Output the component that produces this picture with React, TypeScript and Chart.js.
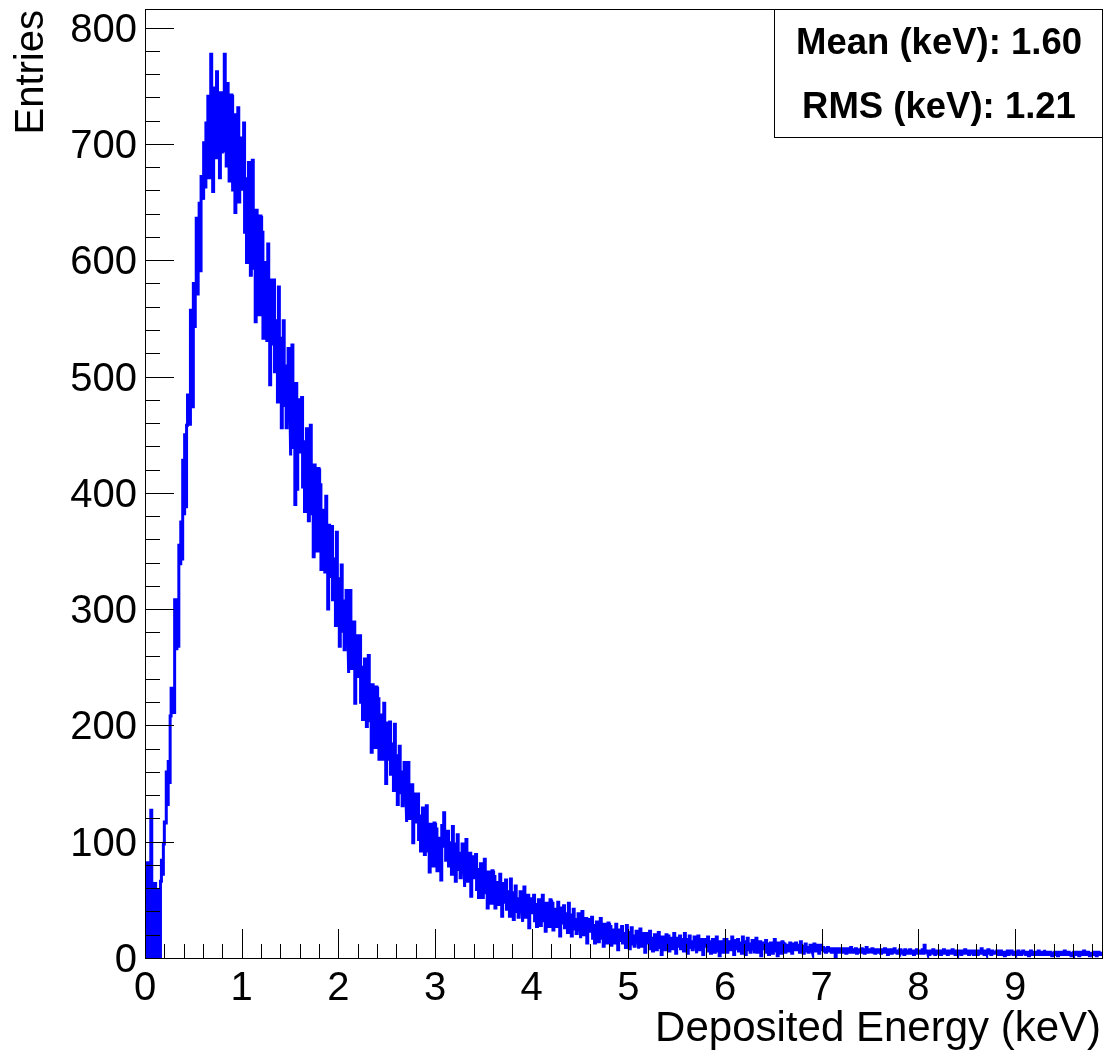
import React, { useEffect, useRef } from "react";
import { Chart, registerables } from "chart.js";

Chart.register(...registerables);

// Histogram: deposited energy, bins of 0.01 keV from 0 to 9.9 keV (20 bins per row = 0.2 keV)
const binWidth = 0.01;
const xRange = [0, 9.9];
const yRange = [0, 816];
const counts: number[] = [
  0, 0, 82, 35, 0, 12, 127, 48, 0, 20, 64, 26, 0, 45, 58, 0, 66, 84, 72, 98,
  117, 116, 160, 132, 169, 151, 208, 232, 213, 211, 263, 308, 266, 302, 268, 355, 339, 375, 343, 428,
  382, 450, 388, 458, 484, 471, 459, 557, 527, 474, 580, 543, 580, 636, 571, 600, 649, 591, 672, 657,
  652, 701, 663, 718, 689, 741, 671, 709, 777, 684, 659, 736, 748, 688, 762, 705, 726, 671, 744, 693,
  738, 694, 777, 716, 681, 752, 729, 668, 713, 742, 659, 706, 725, 641, 702, 688, 731, 650, 693, 674,
  705, 661, 718, 624, 665, 598, 670, 684, 619, 587, 642, 686, 593, 619, 547, 643, 595, 619, 553, 638,
  567, 624, 533, 590, 598, 563, 531, 614, 565, 493, 583, 528, 545, 583, 504, 516, 548, 478, 577, 510,
  519, 456, 533, 548, 475, 509, 456, 486, 524, 468, 432, 499, 527, 439, 469, 390, 494, 403, 470, 480,
  471, 435, 482, 405, 438, 384, 444, 455, 403, 376, 422, 458, 382, 404, 345, 424, 386, 404, 350, 421,
  361, 407, 334, 379, 385, 357, 332, 397, 358, 300, 372, 328, 341, 371, 308, 318, 343, 286, 366, 312,
  317, 268, 326, 338, 281, 307, 265, 287, 316, 273, 245, 295, 316, 249, 271, 250, 289, 219, 269, 277,
  268, 242, 277, 220, 245, 205, 250, 257, 219, 199, 234, 260, 204, 221, 177, 235, 207, 221, 181, 233,
  190, 223, 171, 204, 209, 189, 171, 219, 191, 150, 202, 171, 181, 203, 158, 165, 184, 144, 201, 163,
  167, 132, 174, 182, 142, 160, 131, 147, 168, 137, 117, 153, 168, 120, 136, 121, 149, 99, 136, 141,
  135, 117, 141, 102, 119, 92, 122, 129, 102, 89, 112, 131, 92, 104, 74, 115, 96, 106, 79, 116,
  86, 111, 75, 100, 103, 91, 67, 114, 96, 125, 105, 84, 92, 109, 79, 84, 99, 72, 113, 87,
  92, 66, 98, 106, 76, 90, 69, 81, 98, 76, 61, 89, 102, 66, 79, 68, 90, 53, 81, 87,
  83, 69, 89, 59, 72, 52, 76, 81, 62, 52, 70, 85, 56, 65, 43, 74, 60, 68, 47, 75,
  52, 70, 43, 61, 65, 55, 46, 72, 57, 36, 64, 48, 53, 67, 42, 47, 57, 36, 68, 47,
  51, 33, 56, 62, 40, 51, 35, 45, 57, 41, 31, 51, 61, 35, 44, 37, 54, 26, 47, 51,
  50, 39, 54, 32, 43, 27, 46, 50, 35, 28, 42, 54, 32, 40, 23, 47, 36, 43, 27, 50,
  32, 47, 24, 39, 42, 34, 27, 48, 36, 19, 43, 30, 34, 45, 26, 30, 38, 22, 47, 31,
  33, 19, 37, 42, 25, 33, 21, 28, 38, 25, 17, 34, 40, 20, 28, 22, 34, 13, 30, 33,
  31, 23, 35, 17, 25, 13, 28, 31, 19, 14, 25, 34, 17, 22, 10, 29, 20, 25, 13, 30,
  16, 27, 11, 23, 24, 18, 13, 29, 21, 7, 24, 15, 19, 27, 13, 15, 21, 9, 28, 17,
  19, 8, 22, 26, 12, 19, 10, 16, 23, 14, 8, 20, 25, 10, 16, 11, 21, 5, 18, 21,
  20, 13, 23, 8, 15, 6, 17, 20, 11, 7, 16, 22, 9, 13, 3, 18, 12, 16, 7, 20,
  10, 19, 6, 15, 17, 12, 8, 21, 14, 4, 17, 10, 13, 19, 8, 10, 16, 6, 21, 12,
  13, 4, 16, 19, 9, 14, 7, 12, 18, 10, 4, 15, 19, 7, 12, 8, 16, 3, 14, 16,
  15, 10, 18, 6, 12, 4, 14, 16, 8, 5, 12, 18, 6, 10, 2, 14, 9, 13, 5, 16,
  8, 16, 5, 13, 14, 10, 7, 18, 12, 3, 15, 8, 11, 16, 6, 8, 13, 4, 18, 10,
  11, 3, 14, 17, 7, 12, 5, 10, 15, 8, 4, 13, 17, 5, 10, 6, 14, 2, 11, 13,
  12, 8, 15, 5, 10, 3, 12, 13, 7, 4, 10, 16, 6, 9, 2, 13, 8, 11, 4, 14,
  7, 12, 5, 10, 11, 8, 6, 13, 9, 4, 12, 7, 9, 13, 7, 8, 11, 5, 14, 9,
  8, 4, 10, 12, 6, 9, 5, 8, 11, 6, 4, 10, 12, 6, 8, 6, 11, 4, 9, 11,
  7, 9, 6, 8, 5, 7, 9, 6, 8, 7, 5, 8, 6, 7, 1, 8, 6, 7, 5, 8,
  7, 5, 8, 6, 7, 4, 8, 6, 7, 5, 9, 6, 5, 7, 6, 8, 4, 7, 6, 5,
  6, 8, 5, 7, 4, 6, 9, 5, 6, 7, 4, 6, 8, 5, 6, 4, 7, 6, 5, 7,
  6, 4, 7, 5, 6, 8, 5, 6, 3, 7, 5, 6, 4, 7, 5, 8, 5, 6, 4, 6,
  5, 7, 4, 6, 5, 3, 7, 5, 6, 4, 5, 7, 4, 6, 5, 3, 6, 5, 7, 4,
  5, 6, 4, 5, 7, 4, 11, 5, 6, 4, 5, 3, 6, 5, 4, 7, 5, 3, 6, 5,
  4, 6, 5, 3, 6, 5, 7, 4, 5, 6, 3, 5, 6, 4, 5, 7, 4, 5, 3, 6,
  5, 4, 6, 5, 3, 6, 4, 5, 7, 4, 5, 6, 3, 5, 4, 6, 5, 3, 6, 4,
  5, 3, 6, 4, 5, 8, 4, 5, 3, 6, 4, 5, 7, 4, 5, 3, 6, 4, 5, 4,
  4, 6, 3, 5, 4, 6, 3, 5, 4, 2, 5, 4, 6, 3, 5, 4, 6, 4, 3, 5,
  4, 5, 3, 6, 4, 5, 3, 4, 6, 4, 5, 3, 4, 5, 2, 4, 6, 3, 5, 4,
  4, 3, 5, 4, 6, 3, 4, 5, 3, 4, 7, 4, 3, 5, 4, 3, 5, 4, 2, 4,
  4, 5, 3, 4, 2, 5, 4, 3, 5, 4, 3, 6, 4, 3, 4, 5, 3, 4, 2, 4,
  3, 5, 4, 3, 5, 4, 2, 4, 5, 3, 4, 6, 3, 4, 3, 5, 4, 2, 4, 3,
  4, 3, 5, 4, 2, 4, 5, 3, 4, 3,
];
const xTickLabels = ["0", "1", "2", "3", "4", "5", "6", "7", "8", "9"];
const yTickLabels = ["0", "100", "200", "300", "400", "500", "600", "700", "800"];
const xTitle = "Deposited Energy (keV)";
const yTitle = "Entries";
const statsLines = ["Mean (keV): 1.60", "RMS (keV): 1.21"];

const FONT = "'Liberation Sans', Arial, Helvetica, sans-serif";

const framePlugin = {
  id: "rootFrame",
  afterDraw(chart: any) {
    const ctx: CanvasRenderingContext2D = chart.ctx;
    const { left, right, top, bottom } = chart.chartArea;
    const xs = chart.scales.x;
    const ys = chart.scales.y;
    ctx.save();
    ctx.strokeStyle = "#000";
    ctx.lineWidth = 1;
    // frame
    ctx.strokeRect(Math.round(left) + 0.5, Math.round(top) + 0.5, Math.round(right - left), Math.round(bottom - top));
    ctx.beginPath();
    // x ticks
    for (let k = 0; k < 50; k++) {
      const v = k * 0.2;
      if (v > xRange[1] + 1e-9) break;
      const px = Math.round(xs.getPixelForValue(v)) + 0.5;
      const major = k % 5 === 0;
      ctx.moveTo(px, bottom);
      ctx.lineTo(px, bottom - (major ? 29 : 14));
    }
    // y ticks
    for (let k = 0; k <= 45; k++) {
      const v = k * 20;
      if (v > yRange[1]) break;
      const py = Math.round(ys.getPixelForValue(v)) + 0.5;
      const major = k % 5 === 0;
      ctx.moveTo(left, py);
      ctx.lineTo(left + (major ? 29 : 15), py);
    }
    ctx.stroke();

    ctx.fillStyle = "#000";
    ctx.font = `40px ${FONT}`;
    ctx.textBaseline = "alphabetic";
    ctx.textAlign = "center";
    xTickLabels.forEach((t) => {
      ctx.fillText(t, xs.getPixelForValue(Number(t)), bottom + 42);
    });
    ctx.textAlign = "right";
    yTickLabels.forEach((t) => {
      ctx.fillText(t, left - 8, ys.getPixelForValue(Number(t)) + 14);
    });

    ctx.font = `42px ${FONT}`;
    ctx.textAlign = "right";
    ctx.fillText(xTitle, right - 1, bottom + 83);
    ctx.font = `40px ${FONT}`;
    ctx.save();
    ctx.translate(43, top + 1);
    ctx.rotate(-Math.PI / 2);
    ctx.textAlign = "right";
    ctx.fillText(yTitle, 0, 0);
    ctx.restore();

    // stats box
    const bx0 = 774, bx1 = Math.round(right), by0 = Math.round(top), by1 = 137;
    ctx.fillStyle = "#fff";
    ctx.fillRect(bx0, by0, bx1 - bx0, by1 - by0);
    ctx.strokeStyle = "#000";
    ctx.strokeRect(bx0 + 0.5, by0 + 0.5, bx1 - bx0, by1 - by0);
    ctx.fillStyle = "#000";
    ctx.font = `bold 36.5px ${FONT}`;
    ctx.textAlign = "center";
    const cx = (bx0 + bx1) / 2 + 1;
    ctx.fillText(statsLines[0], cx, 54);
    ctx.fillText(statsLines[1], cx, 118);
    ctx.restore();
  },
};

export default function App() {
  const ref = useRef<HTMLCanvasElement>(null);
  useEffect(() => {
    if (!ref.current) return;
    const points: { x: number; y: number }[] = [];
    counts.forEach((c, i) => {
      points.push({ x: i * binWidth, y: c });
      points.push({ x: (i + 1) * binWidth, y: c });
    });
    const chart = new Chart(ref.current, {
      type: "line",
      data: {
        datasets: [
          {
            data: points,
            borderColor: "#0000ff",
            borderWidth: 3,
            pointRadius: 0,
            fill: false,
            tension: 0,
          },
        ],
      },
      options: {
        responsive: false,
        animation: false,
        events: [],
        layout: { padding: { left: 145, top: 9, right: 7, bottom: 93 } },
        plugins: { legend: { display: false }, tooltip: { enabled: false } },
        scales: {
          x: { type: "linear", min: xRange[0], max: xRange[1], display: false },
          y: { type: "linear", min: yRange[0], max: yRange[1], display: false },
        },
      },
      plugins: [framePlugin],
    });
    return () => chart.destroy();
  }, []);
  return (
    <div style={{ position: "absolute", left: 0, top: 0, width: 1109, height: 1051, background: "#fff" }}>
      <canvas ref={ref} width={1109} height={1051} style={{ width: 1109, height: 1051 }} />
    </div>
  );
}
